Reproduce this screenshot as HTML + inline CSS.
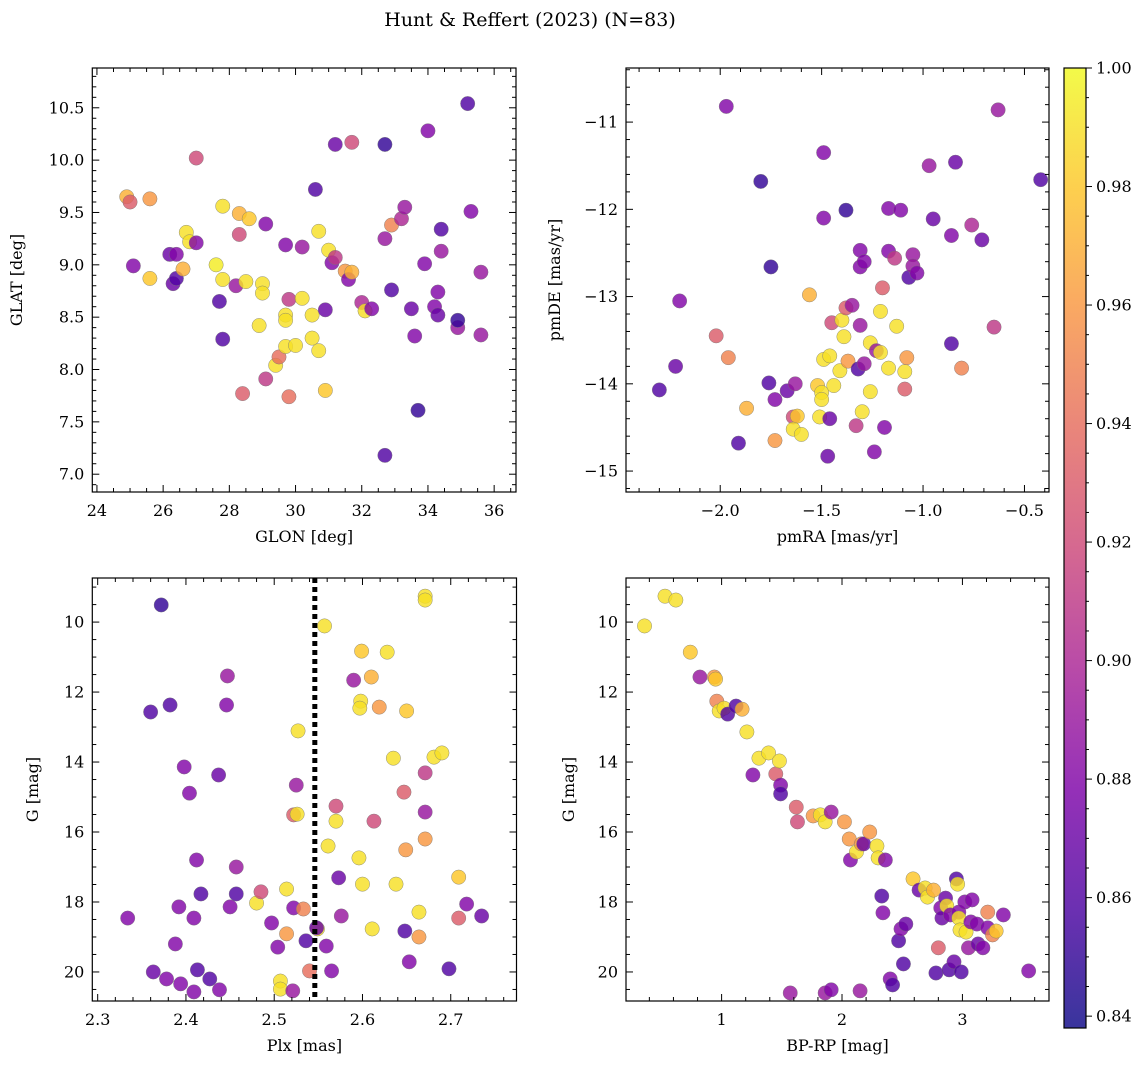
<!DOCTYPE html>
<html><head><meta charset="utf-8">
<style>
html,body{margin:0;padding:0;background:#fff;}
svg{display:block;font-family:"DejaVu Serif","Liberation Serif",serif;}
</style></head>
<body>
<svg id="fig" width="1148" height="1068" viewBox="0 0 1148 1068" xmlns="http://www.w3.org/2000/svg">
<rect width="1148" height="1068" fill="#fff"/>
<text x="530" y="26" font-size="19" text-anchor="middle" fill="#000">Hunt &amp; Reffert (2023) (N=83)</text>
</svg>
<script>
// ---- Panel 1: GLON / GLAT ----
const p1Glon=[24.9,25.0,25.6,25.1,25.6,26.2,26.4,26.3,26.4,26.7,26.6,26.8,27.0,27.0,27.6,27.8,27.8,27.7,27.8,28.2,28.3,28.3,28.6,28.5,28.4,28.9,29.0,29.0,29.1,29.1,29.4,29.5,29.7,29.8,29.7,29.7,29.7,29.8,30.0,30.2,30.2,30.5,30.5,30.6,30.7,30.7,30.9,30.9,31.0,31.1,31.2,31.2,31.5,31.6,31.7,31.7,32.0,32.1,32.3,32.7,32.7,32.7,32.9,32.9,33.2,33.3,33.5,33.6,33.7,33.9,34.0,34.2,34.3,34.4,34.4,34.3,34.9,34.9,35.2,35.3,35.6,35.6];
const p1Glat=[9.65,9.6,9.63,8.99,8.87,9.1,9.1,8.82,8.87,9.31,8.96,9.22,9.21,10.02,9.0,9.56,8.86,8.65,8.29,8.8,9.49,9.29,9.44,8.84,7.77,8.42,8.82,8.73,9.39,7.91,8.04,8.12,9.19,8.67,8.52,8.47,8.22,7.74,8.23,9.17,8.68,8.52,8.3,9.72,9.32,8.18,8.57,7.8,9.14,9.02,9.07,10.15,8.94,8.86,8.93,10.17,8.64,8.56,8.58,9.25,10.15,7.18,9.38,8.76,9.44,9.55,8.58,8.32,7.61,9.01,10.28,8.6,8.52,9.34,9.13,8.74,8.4,8.47,10.54,9.51,8.93,8.33];
const p1Prob=[0.97,0.93,0.96,0.88,0.98,0.87,0.88,0.87,0.86,0.99,0.97,0.99,0.88,0.92,0.995,0.99,0.99,0.86,0.86,0.89,0.97,0.92,0.98,0.99,0.93,0.99,0.99,0.99,0.88,0.91,0.99,0.94,0.88,0.91,0.99,0.99,0.99,0.94,0.99,0.89,0.99,0.99,0.99,0.86,0.99,0.99,0.87,0.98,0.99,0.88,0.91,0.87,0.96,0.88,0.97,0.92,0.90,0.99,0.88,0.89,0.85,0.86,0.95,0.86,0.90,0.89,0.87,0.88,0.85,0.88,0.88,0.88,0.87,0.86,0.89,0.88,0.89,0.85,0.86,0.88,0.89,0.89];
// ---- Panel 2: pmRA / pmDE ----
const p2PmRA=[-2.3,-2.22,-2.2,-2.02,-1.96,-1.97,-1.91,-1.87,-1.80,-1.75,-1.76,-1.73,-1.73,-1.67,-1.63,-1.64,-1.62,-1.64,-1.60,-1.56,-1.52,-1.50,-1.50,-1.49,-1.51,-1.49,-1.49,-1.47,-1.46,-1.46,-1.45,-1.44,-1.41,-1.40,-1.39,-1.38,-1.38,-1.37,-1.35,-1.33,-1.32,-1.31,-1.31,-1.31,-1.30,-1.29,-1.29,-1.26,-1.26,-1.24,-1.23,-1.21,-1.21,-1.20,-1.19,-1.17,-1.17,-1.17,-1.14,-1.13,-1.11,-1.09,-1.08,-1.09,-1.07,-1.05,-1.05,-1.03,-0.97,-0.95,-0.86,-0.86,-0.84,-0.81,-0.76,-0.71,-0.65,-0.63,-0.42];
const p2PmDE=[-14.07,-13.8,-13.05,-13.45,-13.7,-10.82,-14.68,-14.28,-11.68,-12.66,-13.99,-14.18,-14.65,-14.08,-14.0,-14.38,-14.37,-14.52,-14.58,-12.98,-14.02,-14.1,-14.18,-13.72,-14.38,-11.35,-12.1,-14.83,-14.4,-13.68,-13.3,-14.02,-13.85,-13.27,-13.46,-12.01,-13.13,-13.74,-13.1,-14.48,-13.83,-13.33,-12.47,-12.66,-14.32,-12.6,-13.77,-13.53,-14.09,-14.78,-13.62,-13.17,-13.64,-12.9,-14.5,-11.99,-12.48,-13.82,-12.56,-13.34,-12.01,-13.86,-13.7,-14.06,-12.78,-12.52,-12.65,-12.73,-11.5,-12.11,-12.3,-13.54,-11.46,-13.82,-12.18,-12.35,-13.35,-10.86,-11.66];
const p2Prob=[0.86,0.87,0.88,0.93,0.95,0.88,0.86,0.97,0.85,0.85,0.86,0.88,0.96,0.87,0.89,0.92,0.98,0.99,0.99,0.97,0.98,0.99,0.99,0.99,0.99,0.88,0.88,0.87,0.87,0.99,0.92,0.99,0.99,0.99,0.99,0.85,0.93,0.96,0.89,0.91,0.86,0.89,0.88,0.88,0.99,0.88,0.89,0.99,0.99,0.88,0.89,0.99,0.99,0.93,0.88,0.88,0.88,0.99,0.91,0.99,0.88,0.99,0.96,0.93,0.86,0.89,0.89,0.88,0.89,0.87,0.88,0.86,0.87,0.95,0.90,0.87,0.91,0.89,0.86];
// ---- Panel 3: Plx / G ----
const p3Plx=[2.334,2.360,2.363,2.372,2.382,2.378,2.392,2.388,2.394,2.398,2.404,2.409,2.409,2.412,2.413,2.417,2.427,2.437,2.438,2.446,2.447,2.450,2.457,2.457,2.497,2.480,2.485,2.504,2.507,2.507,2.514,2.514,2.521,2.522,2.522,2.525,2.526,2.527,2.533,2.536,2.540,2.549,2.548,2.557,2.559,2.561,2.565,2.570,2.570,2.573,2.576,2.590,2.596,2.599,2.598,2.597,2.600,2.610,2.611,2.613,2.619,2.628,2.635,2.638,2.647,2.649,2.648,2.650,2.653,2.664,2.664,2.671,2.671,2.671,2.671,2.671,2.681,2.690,2.698,2.709,2.709,2.718,2.735];
const p3G=[18.46,12.57,20.0,9.51,12.37,20.2,18.14,19.2,20.34,14.14,14.89,18.46,20.57,16.8,19.94,17.77,20.2,14.37,20.51,12.37,11.54,18.14,17.0,17.77,18.6,18.03,17.71,19.29,20.26,20.49,17.63,18.91,20.54,15.51,18.17,14.66,15.49,13.11,18.2,19.11,19.97,18.77,18.74,10.11,19.26,16.4,19.97,15.26,15.69,17.31,18.4,11.66,16.74,10.83,12.26,12.46,17.49,11.57,18.77,15.69,12.43,10.86,13.89,17.49,14.86,16.51,18.83,12.54,19.71,19.0,18.29,14.31,15.43,16.2,9.26,9.37,13.86,13.74,19.91,18.46,17.29,18.06,18.4];
const p3Prob=[0.88,0.86,0.87,0.85,0.86,0.88,0.88,0.88,0.88,0.88,0.88,0.88,0.88,0.88,0.86,0.86,0.86,0.87,0.88,0.88,0.89,0.88,0.89,0.86,0.88,0.99,0.92,0.88,0.99,0.99,0.99,0.96,0.89,0.93,0.88,0.89,0.99,0.99,0.95,0.86,0.94,0.99,0.87,0.99,0.88,0.99,0.88,0.92,0.99,0.87,0.89,0.89,0.99,0.98,0.99,0.99,0.99,0.97,0.99,0.92,0.96,0.99,0.99,0.99,0.93,0.96,0.86,0.98,0.88,0.96,0.99,0.91,0.89,0.96,0.99,0.99,0.99,0.99,0.86,0.93,0.98,0.88,0.87];
const p3Cut=[2.546];
// ---- Panel 4: BP-RP / G ----
const p4BpRp=[0.36,0.53,0.62,0.74,0.82,0.94,0.95,0.96,0.98,1.02,1.05,1.12,1.17,1.21,1.26,1.31,1.39,1.45,1.48,1.49,1.49,1.62,1.63,1.76,1.82,1.86,1.91,2.02,2.06,2.07,2.12,2.16,2.18,2.23,2.29,2.30,2.33,2.34,2.36,2.47,2.49,2.51,2.53,2.59,2.64,2.69,2.71,2.76,2.78,2.80,2.82,2.83,2.86,2.87,2.89,2.90,2.93,2.95,2.96,2.97,2.97,2.98,2.99,3.02,3.03,3.05,3.07,3.08,3.12,3.13,3.17,3.21,3.21,3.25,3.28,3.34,3.55,1.57,1.86,1.91,2.15,2.40,2.42];
const p4G=[10.11,9.26,9.37,10.86,11.57,11.57,11.63,12.26,12.54,12.46,12.63,12.4,12.49,13.14,14.37,13.89,13.74,14.34,13.97,14.66,14.91,15.29,15.71,15.54,15.51,15.71,15.43,15.71,16.2,16.8,16.57,16.34,16.34,16.0,16.4,16.74,17.83,18.31,16.8,19.11,18.77,19.77,18.63,17.34,17.66,17.6,17.86,17.66,20.03,19.31,18.17,18.46,17.89,18.11,19.94,18.37,19.71,17.34,17.49,18.29,18.46,18.8,20.0,18.0,18.86,19.31,18.57,17.94,18.63,19.2,19.31,18.29,18.74,18.94,18.83,18.37,19.97,20.6,20.6,20.51,20.54,20.2,20.37];
const p4Prob=[0.99,0.99,0.99,0.98,0.89,0.96,0.98,0.95,0.99,0.99,0.86,0.86,0.97,0.99,0.88,0.99,0.99,0.93,0.99,0.88,0.86,0.93,0.92,0.96,0.99,0.99,0.89,0.96,0.96,0.88,0.99,0.96,0.87,0.96,0.99,0.99,0.86,0.88,0.88,0.86,0.88,0.86,0.87,0.98,0.87,0.99,0.99,0.97,0.86,0.93,0.88,0.87,0.87,0.99,0.86,0.88,0.87,0.86,0.99,0.88,0.99,0.99,0.86,0.88,0.99,0.89,0.88,0.88,0.88,0.87,0.88,0.95,0.88,0.95,0.98,0.88,0.88,0.89,0.89,0.88,0.89,0.88,0.86];
// colorbar
const cbTicks=[0.84,0.86,0.88,0.90,0.92,0.94,0.96,0.98,1.00];
const cMin=0.838, cMax=1.0;

const NS="http://www.w3.org/2000/svg";
const svg=document.getElementById('fig');
function mk(tag,attrs,parent){const e=document.createElementNS(NS,tag);for(const k in attrs)e.setAttribute(k,attrs[k]);(parent||svg).appendChild(e);return e;}
const stops=["#0d0887","#4c02a1","#7e03a8","#a92395","#cc4778","#e56b5d","#f89540","#fdc527","#f0f921"];
function hex(h){return [parseInt(h.slice(1,3),16),parseInt(h.slice(3,5),16),parseInt(h.slice(5,7),16)];}
function plasma(t){t=Math.max(0,Math.min(1,t));const f=t*8,i=Math.min(7,Math.floor(f)),r=f-i;const a=hex(stops[i]),b=hex(stops[i+1]);return `rgb(${a.map((v,k)=>Math.round(v+(b[k]-v)*r)).join(',')})`;}
function cmap(v){return plasma((v-cMin)/(cMax-cMin));}

function panel(o){
  const g=mk('g',{});  
  const sx=v=>o.x0+(v-o.xmin)/(o.xmax-o.xmin)*(o.x1-o.x0);
  const sy=o.invert? (v=>o.y0+(v-o.ymin)/(o.ymax-o.ymin)*(o.y1-o.y0)) : (v=>o.y1-(v-o.ymin)/(o.ymax-o.ymin)*(o.y1-o.y0));
  const clip='clip-'+o.name;
  const cp=mk('clipPath',{id:clip},g); mk('rect',{x:o.x0,y:o.y0,width:o.x1-o.x0,height:o.y1-o.y0},cp);
  const pts=mk('g',{'clip-path':`url(#${clip})`},g);
   
  for(let i=0;i<o.xs.length;i++){
    const c=mk('circle',{cx:sx(o.xs[i]),cy:sy(o.ys[i]),r:7.2,fill:cmap(o.cs[i]),'fill-opacity':0.82,stroke:'#777','stroke-width':0.5,'stroke-opacity':0.8},pts);
    
    
  }
  if(o.vline){const l=mk('line',{x1:sx(o.vline),x2:sx(o.vline),y1:o.y0,y2:o.y1,stroke:'#000','stroke-width':5,'stroke-dasharray':'5,4'},g);
     }
  mk('rect',{x:o.x0,y:o.y0,width:o.x1-o.x0,height:o.y1-o.y0,fill:'none',stroke:'#000','stroke-width':1.2},g);
  const eps=1e-9;
  for(let v=Math.ceil((o.xmin)/o.xminor-eps)*o.xminor; v<=o.xmax+eps; v+=o.xminor){
    const X=sx(v); const major=Math.abs(v/o.xmaj-Math.round(v/o.xmaj))<1e-6; const L=major?7:4;
    mk('line',{x1:X,x2:X,y1:o.y1,y2:o.y1-L,stroke:'#000','stroke-width':1},g);
    mk('line',{x1:X,x2:X,y1:o.y0,y2:o.y0+L,stroke:'#000','stroke-width':1},g);
    if(major){const t=mk('text',{x:X,y:o.y1+24,'font-size':16,'text-anchor':'middle'},g);t.textContent=o.xfmt(v);
       }
  }
  for(let v=Math.ceil((o.ymin)/o.yminor-eps)*o.yminor; v<=o.ymax+eps; v+=o.yminor){
    const Y=sy(v); const major=Math.abs(v/o.ymaj-Math.round(v/o.ymaj))<1e-6; const L=major?7:4;
    mk('line',{x1:o.x0,x2:o.x0+L,y1:Y,y2:Y,stroke:'#000','stroke-width':1},g);
    mk('line',{x1:o.x1,x2:o.x1-L,y1:Y,y2:Y,stroke:'#000','stroke-width':1},g);
    if(major){const t=mk('text',{x:o.x0-8,y:Y+5.5,'font-size':16,'text-anchor':'end'},g);t.textContent=o.yfmt(v);
       }
  }
  const xl=mk('text',{x:(o.x0+o.x1)/2,y:o.y1+50,'font-size':16,'text-anchor':'middle'},g);xl.textContent=o.xlabel;
   
  const yc=(o.y0+o.y1)/2;
  const yl=mk('text',{x:o.ylx,y:yc,'font-size':16,'text-anchor':'middle',transform:`rotate(-90 ${o.ylx} ${yc})`},g);yl.textContent=o.ylabel;
   
}
const f0=v=>Math.round(v).toString(), f1=v=>(Math.round(v*10)/10).toFixed(1);
const mnus=s=>s.replace('-','\u2212');
panel({name:'glon-glat-panel',x0:92.3,x1:516,y0:68,y1:492,xmin:23.86,xmax:36.66,ymin:6.83,ymax:10.88,xmaj:2,xminor:0.5,ymaj:0.5,yminor:0.1,
  xs:p1Glon,ys:p1Glat,cs:p1Prob,xfmt:f0,yfmt:f1,xlabel:'GLON [deg]',ylabel:'GLAT [deg]',ylx:22});
panel({name:'pm-panel',x0:626,x1:1049,y0:68,y1:492,xmin:-2.4645,xmax:-0.379,ymin:-15.24,ymax:-10.38,xmaj:0.5,xminor:0.1,ymaj:1,yminor:0.2,
  xs:p2PmRA,ys:p2PmDE,cs:p2Prob,xfmt:v=>mnus(f1(v)),yfmt:v=>mnus(f0(v)),xlabel:'pmRA [mas/yr]',ylabel:'pmDE [mas/yr]',ylx:560});
panel({name:'plx-g-panel',x0:92.3,x1:516.5,y0:578,y1:1001,xmin:2.2939,xmax:2.7745,ymin:8.74,ymax:20.83,invert:true,xmaj:0.1,xminor:0.02,ymaj:2,yminor:0.5,
  xs:p3Plx,ys:p3G,cs:p3Prob,vline:p3Cut[0],xfmt:f1,yfmt:f0,xlabel:'Plx [mas]',ylabel:'G [mag]',ylx:38});
panel({name:'cmd-panel',x0:626,x1:1049,y0:578,y1:1001,xmin:0.206,xmax:3.719,ymin:8.74,ymax:20.83,invert:true,xmaj:1,xminor:0.2,ymaj:2,yminor:0.5,
  xs:p4BpRp,ys:p4G,cs:p4Prob,xfmt:f0,yfmt:f0,xlabel:'BP-RP [mag]',ylabel:'G [mag]',ylx:574});

// colorbar
const cb=mk('g',{});  
const cx0=1064,cx1=1086,cy0=68,cy1=1028;
const gr=mk('linearGradient',{id:'cbg',x1:0,y1:1,x2:0,y2:0},mk('defs',{},cb));
stops.forEach((s,i)=>mk('stop',{offset:i/8,'stop-color':s},gr));
mk('rect',{x:cx0,y:cy0,width:cx1-cx0,height:cy1-cy0,fill:'url(#cbg)','fill-opacity':0.82},cb);
mk('rect',{x:cx0,y:cy0,width:cx1-cx0,height:cy1-cy0,fill:'none',stroke:'#000','stroke-width':1.2},cb);
const cy=v=>cy1-(v-cMin)/(cMax-cMin)*(cy1-cy0);
for(let v=0.84;v<=1.0001;v+=0.005){const Y=cy(v);const major=Math.abs(v*50-Math.round(v*50))<1e-6;
  mk('line',{x1:cx1,x2:cx1+(major?6:3),y1:Y,y2:Y,stroke:'#000','stroke-width':1},cb);}
cbTicks.forEach(v=>{const t=mk('text',{x:cx1+10,y:cy(v)+5.5,'font-size':16},cb);t.textContent=v.toFixed(2);
   });
</script>
</body></html>
